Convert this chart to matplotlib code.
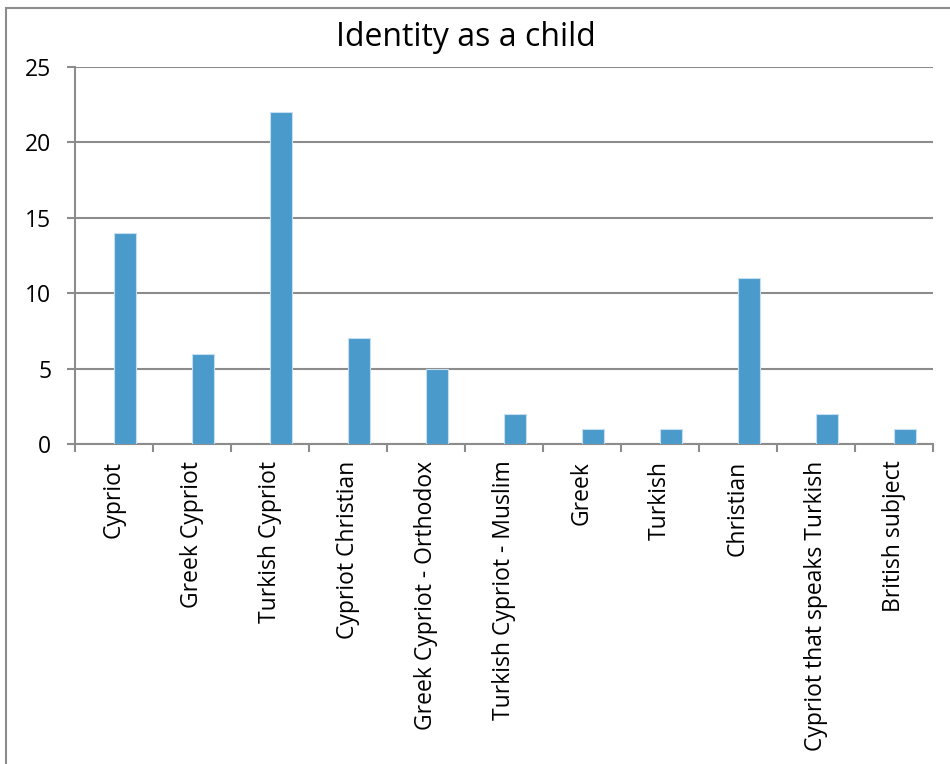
import matplotlib
matplotlib.use("Agg")
import matplotlib.pyplot as plt
from matplotlib.patches import Rectangle

categories = [
    "Cypriot", "Greek Cypriot", "Turkish Cypriot", "Cypriot Christian",
    "Greek Cypriot - Orthodox", "Turkish Cypriot - Muslim", "Greek",
    "Turkish", "Christian", "Cypriot that speaks Turkish", "British subject",
]
counts = [14, 6, 22, 7, 5, 2, 1, 1, 11, 2, 1]
y_ticks = [0, 5, 10, 15, 20, 25]
title = "Identity as a child"

plt.rcParams["font.family"] = ["Open Sans", "DejaVu Sans"]

W, H = 950, 764
fig = plt.figure(figsize=(W / 100, H / 100), dpi=100)
fig.patch.set_facecolor("white")

# chart-area frame
fig.add_artist(Rectangle((6 / W, -0.01), 1.0, 1 - 8 / H + 0.01,
                         transform=fig.transFigure, fill=False,
                         edgecolor="#8c8c8c", linewidth=1.5))

ax = fig.add_axes([75 / W, 1 - 444 / H, (933 - 75) / W, (444 - 67) / H])
grid_color = "#8c8c8c"

xs = list(range(len(categories)))
ax.bar([x + 0.14 for x in xs], counts, width=0.28, color="#4a9bcb",
       edgecolor="#c6def0", linewidth=0.8, zorder=3)

ax.set_xlim(-0.5, len(categories) - 0.5)
ax.set_ylim(0, 25)
ax.set_yticks(y_ticks)
ax.set_yticklabels([str(v) for v in y_ticks], fontsize=16.5)
ax.yaxis.grid(True, color=grid_color, linewidth=1.5, zorder=0)
ax.set_axisbelow(True)

ax.set_xticks(xs)
ax.set_xticklabels(categories, rotation=90, fontsize=16.5, va="top")
ax.set_xticks([x - 0.5 for x in xs] + [len(xs) - 0.5], minor=True)
ax.tick_params(axis="x", which="major", length=0, pad=12)
ax.tick_params(axis="x", which="minor", length=6, width=1.5, color=grid_color)
ax.tick_params(axis="y", length=6, width=1.5, color=grid_color, pad=11)

for side in ("top", "right"):
    ax.spines[side].set_visible(False)
for side in ("left", "bottom"):
    ax.spines[side].set_color(grid_color)
    ax.spines[side].set_linewidth(1.5)

fig.text(466 / W, 1 - 37 / H, title, ha="center", va="center", fontsize=23)

fig.savefig("out.png", dpi=100)
